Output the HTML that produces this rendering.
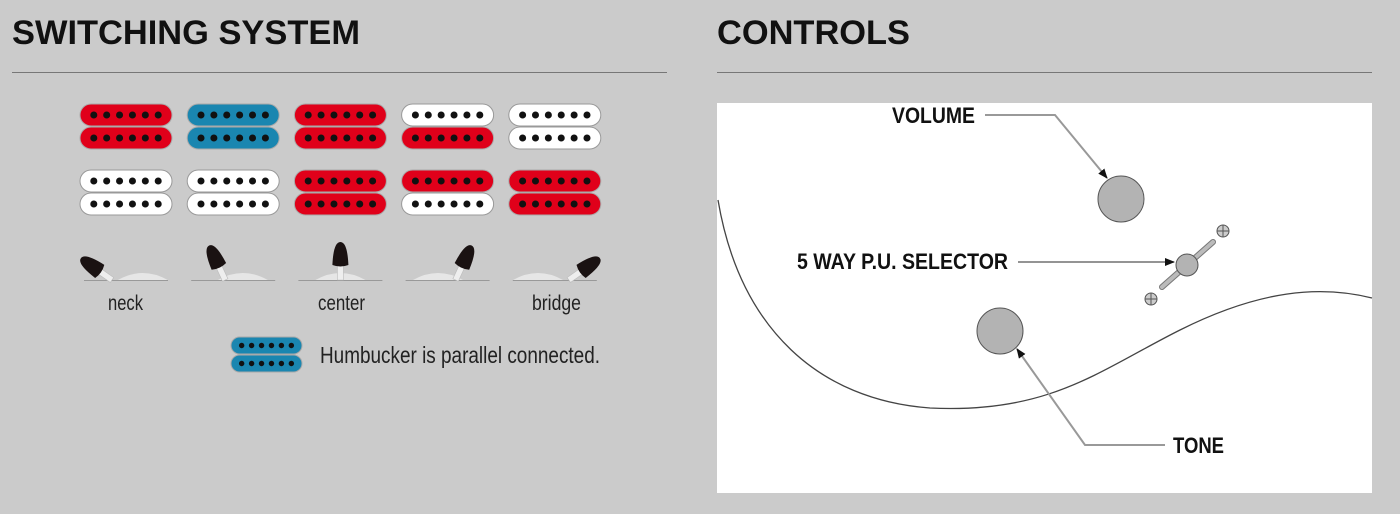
<!DOCTYPE html>
<html><head><meta charset="utf-8"><style>
body{margin:0;background:#cbcbcb;width:1400px;height:514px;overflow:hidden;font-family:"Liberation Sans",sans-serif}
svg{position:absolute;left:0;top:0}
</style></head><body>
<svg width="1400" height="514" xmlns="http://www.w3.org/2000/svg">
<defs>
<marker id="ar" markerWidth="10" markerHeight="8" refX="9" refY="4" orient="auto" markerUnits="userSpaceOnUse"><path d="M0,0 L10,4 L0,8 z" fill="#111"/></marker>
</defs>
<text x="12" y="44" font-size="34" font-weight="bold" fill="#111" textLength="348" lengthAdjust="spacingAndGlyphs">SWITCHING SYSTEM</text>
<line x1="12" y1="72.5" x2="667" y2="72.5" stroke="#777" stroke-width="1"/>
<text x="717" y="44" font-size="34" font-weight="bold" fill="#111" textLength="193" lengthAdjust="spacingAndGlyphs">CONTROLS</text>
<line x1="717" y1="72.5" x2="1372" y2="72.5" stroke="#777" stroke-width="1"/>
<g id="pk"></g>
<g id="sw"></g>
<g font-size="21" fill="#222">
<text x="108" y="310" textLength="35" lengthAdjust="spacingAndGlyphs">neck</text>
<text x="318" y="310" textLength="47" lengthAdjust="spacingAndGlyphs">center</text>
<text x="532" y="310" textLength="49" lengthAdjust="spacingAndGlyphs">bridge</text>
</g>
<text x="320" y="363" font-size="23" fill="#222" textLength="280" lengthAdjust="spacingAndGlyphs">Humbucker is parallel connected.</text>

<rect x="717" y="103" width="655" height="390" fill="#fff"/>
<path d="M718,200 C740,330 820,400 930,408 C1050,414 1100,370 1180,330 C1260,290 1320,285 1372,298" fill="none" stroke="#444" stroke-width="1.3"/>
<circle cx="1121" cy="199" r="23" fill="#b3b3b3" stroke="#555" stroke-width="1"/>
<circle cx="1000" cy="331" r="23" fill="#b3b3b3" stroke="#555" stroke-width="1"/>
<line x1="1162" y1="287" x2="1213" y2="242" stroke="#777" stroke-width="6" stroke-linecap="round"/>
<line x1="1162" y1="287" x2="1213" y2="242" stroke="#bbb" stroke-width="4" stroke-linecap="round"/>
<circle cx="1187" cy="265" r="11" fill="#b3b3b3" stroke="#555" stroke-width="1"/>
<g stroke="#555" stroke-width="1" fill="#ccc">
<circle cx="1223" cy="231" r="6"/><circle cx="1151" cy="299" r="6"/>
</g>
<path d="M1217,231h12M1223,225v12M1145,299h12M1151,293v12" stroke="#555" stroke-width="1"/>
<g font-weight="bold" font-size="22" fill="#111">
<text x="892" y="123" textLength="83" lengthAdjust="spacingAndGlyphs">VOLUME</text>
<text x="797" y="269" textLength="211" lengthAdjust="spacingAndGlyphs">5 WAY P.U. SELECTOR</text>
<text x="1173" y="453" textLength="51" lengthAdjust="spacingAndGlyphs">TONE</text>
</g>
<polyline points="985,115 1055,115 1107,178" fill="none" stroke="#999" stroke-width="2" marker-end="url(#ar)"/>
<line x1="1018" y1="262" x2="1174" y2="262" stroke="#555" stroke-width="1.2" marker-end="url(#ar)"/>
<polyline points="1165,445 1085,445 1017,349" fill="none" stroke="#999" stroke-width="2" marker-end="url(#ar)"/>
</svg>
<script>
var NS="http://www.w3.org/2000/svg";
function el(p,n,a){var e=document.createElementNS(NS,n);for(var k in a)e.setAttribute(k,a[k]);p.appendChild(e);return e;}
var C={r:"#e0001a",b:"#1a86b0",w:"#ffffff"};
var pk=document.getElementById("pk");
function coil(x,y,w,h,c){
 el(pk,"rect",{x:x,y:y,width:w,height:h,rx:h/2,fill:C[c],stroke:c=="w"?"#999":"#aaa","stroke-width":1});
 for(var i=0;i<6;i++)el(pk,"circle",{cx:x+w*0.15+i*(w*0.7/5),cy:y+h/2,r:h*0.16,fill:"#111"});
}
var r1=[["r","r"],["b","b"],["r","r"],["w","r"],["w","w"]];
var r2=[["w","w"],["w","w"],["r","r"],["r","w"],["r","r"]];
for(var i=0;i<5;i++){var x=80+i*107.2;
 coil(x,104,92,22,r1[i][0]);coil(x,127,92,22,r1[i][1]);
 coil(x,170,92,22,r2[i][0]);coil(x,193,92,22,r2[i][1]);}
coil(231,337,71,17,"b");coil(231,355,71,17,"b");
var sw=document.getElementById("sw");
var ang=[-55,-25,0,25,55];
var off=[-14,-8,0,8,14];
for(var i=0;i<5;i++){var cx=126+i*107.2;
 el(sw,"line",{x1:cx-42,y1:280.5,x2:cx+42,y2:280.5,stroke:"#999","stroke-width":1});
 var mx=cx-off[i]*1.2;
 el(sw,"path",{d:"M"+(mx-25)+",280 Q"+mx+",266 "+(mx+25)+",280",fill:"#e6e6e6"});
 var g=el(sw,"g",{transform:"translate("+(cx+off[i])+",280) rotate("+ang[i]+")"});
 el(g,"path",{d:"M-3,0 L-3,-16 L3,-16 L3,0 z",fill:"#eee",stroke:"#bbb","stroke-width":0.6});
 el(g,"path",{d:"M-8,-15 Q-7,-38 0,-38 Q7,-38 8,-15 Q0,-12 -8,-15 z",fill:"#1a1212"});
}
</script>
</body></html>
